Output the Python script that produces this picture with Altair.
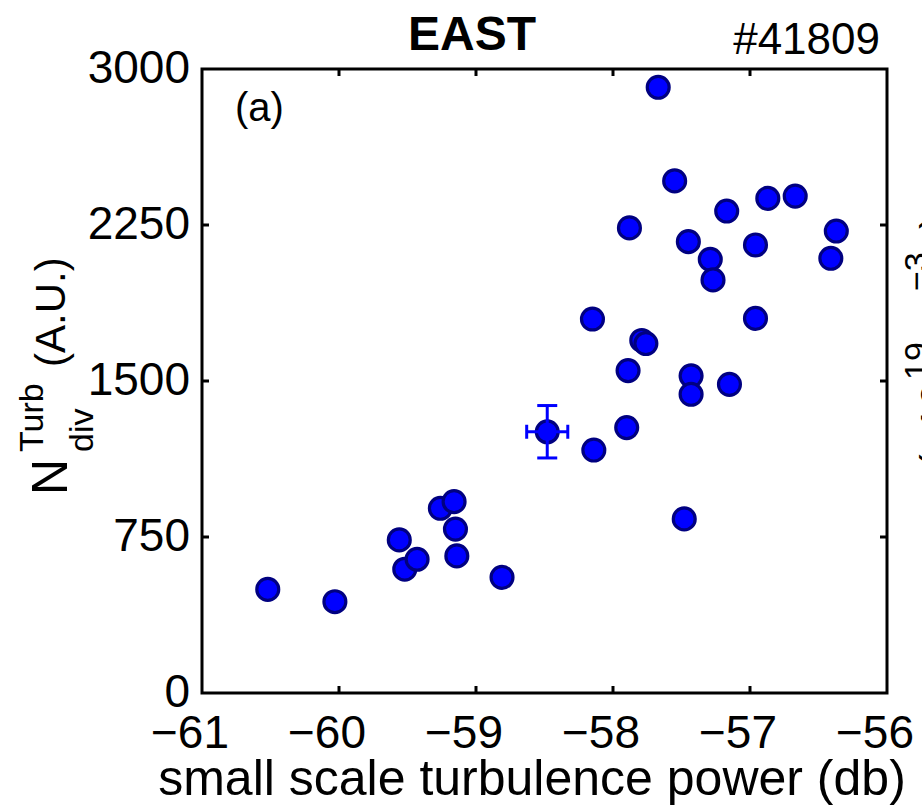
import altair as alt
import pandas as pd

# ---- data ----
x_power = [-60.52, -60.03, -59.56, -59.52, -59.43, -59.26, -59.16, -59.15, -59.14, -58.81,
           -58.48, -58.15, -58.14, -57.67, -57.88, -57.89, -57.90, -57.79, -57.76, -57.55,
           -57.45, -57.43, -57.43, -57.48, -57.15, -57.29, -57.27, -57.17, -56.96, -56.96,
           -56.87, -56.67, -56.37, -56.41]
n_div = [498, 439, 736, 595, 643, 888, 920, 788, 659, 556,
         1256, 1798, 1168, 2912, 2236, 1550, 1276, 1695, 1680, 2462,
         2170, 1525, 1436, 837, 1484, 2085, 1986, 2317, 2154, 1801,
         2378, 2389, 2221, 2090]

err_x = [-58.48]
err_y = [1256]
err_x_lo = [-58.63]
err_x_hi = [-58.33]
err_y_lo = [1130]
err_y_hi = [1382]

x_ticks = [-61, -60, -59, -58, -57, -56]
x_tick_labels = ["−61", "−60", "−59", "−58", "−57", "−56"]
y_ticks = [0, 750, 1500, 2250, 3000]
y_tick_labels = ["0", "750", "1500", "2250", "3000"]
x_inner_ticks = [-60, -59, -58, -57]
y_inner_ticks = [750, 1500, 2250]

FONT = "Liberation Sans"
W, H = 685, 624

df = pd.DataFrame({"x": x_power, "y": n_div})
df_err = pd.DataFrame({"x": err_x, "y": err_y, "xlo": err_x_lo, "xhi": err_x_hi,
                       "ylo": err_y_lo, "yhi": err_y_hi})
df_xt = pd.DataFrame({"x": x_inner_ticks})
df_yt = pd.DataFrame({"y": y_inner_ticks})
df_xl = pd.DataFrame({"x": x_ticks, "lab": x_tick_labels})
df_yl = pd.DataFrame({"y": y_ticks, "lab": y_tick_labels})

xs = alt.Scale(domain=[-61, -56], nice=False, zero=False)
ys = alt.Scale(domain=[0, 3000], nice=False, zero=False)


def X(f):
    return alt.X(f, type="quantitative", scale=xs, axis=None)


def Y(f):
    return alt.Y(f, type="quantitative", scale=ys, axis=None)


points = alt.Chart(df).mark_point(
    shape="circle", filled=True, fill="#0000ff", stroke="#000080",
    strokeWidth=3.2, size=480, opacity=1, fillOpacity=1, strokeOpacity=1
).encode(x=X("x"), y=Y("y"))

BLUE = "#0000ff"
eb_v = alt.Chart(df_err).mark_rule(color=BLUE, strokeWidth=3, opacity=1).encode(x=X("x"), y=Y("ylo"), y2="yhi:Q")
eb_h = alt.Chart(df_err).mark_rule(color=BLUE, strokeWidth=3, opacity=1).encode(x=X("xlo"), x2="xhi:Q", y=Y("y"))
cap_top = alt.Chart(df_err).mark_tick(color=BLUE, orient="horizontal", size=20, thickness=3, opacity=1).encode(x=X("x"), y=Y("yhi"))
cap_bot = alt.Chart(df_err).mark_tick(color=BLUE, orient="horizontal", size=20, thickness=3, opacity=1).encode(x=X("x"), y=Y("ylo"))
cap_l = alt.Chart(df_err).mark_tick(color=BLUE, orient="vertical", size=14, thickness=3, opacity=1).encode(x=X("xlo"), y=Y("y"))
cap_r = alt.Chart(df_err).mark_tick(color=BLUE, orient="vertical", size=14, thickness=3, opacity=1).encode(x=X("xhi"), y=Y("y"))

tick_b = alt.Chart(df_xt).mark_rule(color="black", strokeWidth=3).encode(x=X("x"), y=alt.value(H), y2=alt.value(H - 7))
tick_t = alt.Chart(df_xt).mark_rule(color="black", strokeWidth=3).encode(x=X("x"), y=alt.value(0), y2=alt.value(7))
tick_l = alt.Chart(df_yt).mark_rule(color="black", strokeWidth=3).encode(y=Y("y"), x=alt.value(0), x2=alt.value(7))
tick_r = alt.Chart(df_yt).mark_rule(color="black", strokeWidth=3).encode(y=Y("y"), x=alt.value(W), x2=alt.value(W - 7))

x_labels = alt.Chart(df_xl).mark_text(
    font=FONT, fontSize=46, align="center", baseline="alphabetic", color="black", dx=-12
).encode(x=X("x"), y=alt.value(H + 55), text="lab:N")
y_labels = alt.Chart(df_yl).mark_text(
    font=FONT, fontSize=46, align="right", baseline="middle", color="black"
).encode(y=Y("y"), x=alt.value(-12), text="lab:N")

one = pd.DataFrame({"k": [0]})


def txt(s, x, y, size, align="left", angle=0, bold=False, baseline="alphabetic"):
    kw = dict(text=s, font=FONT, fontSize=size, align=align, baseline=baseline,
              color="black", fontWeight="bold" if bold else "normal")
    if angle:
        kw["angle"] = angle
    return alt.Chart(one).mark_text(**kw).encode(x=alt.value(x), y=alt.value(y))


texts = [
    txt("EAST", 270, -19, 48, align="center", bold=True),
    txt("#41809", 678, -15, 44, align="right"),
    txt("(a)", 33, 52, 40),
    txt("small scale turbulence power (db)", 330, 726, 50, align="center"),
    # rotated y title: N^Turb_div (A.U.)
    txt("N", -135, 426, 50, angle=270),
    txt("Turb", -159, 383, 34, angle=270),
    txt("div", -109, 383, 34, angle=270),
    txt("(A.U.)", -137, 298, 42, angle=270),
    # partially visible right-hand label (x10^19 m^-3)
    txt("(×10", 748, 314, 42, align="right", angle=270),
    txt("19", 726, 311, 34, angle=270),
    txt("m", 748, 264, 42, angle=270),
    txt("−3", 726, 222, 34, angle=270),
    txt(")", 748, 160, 42, angle=270),
]

chart = alt.layer(
    points, eb_v, eb_h, cap_top, cap_bot, cap_l, cap_r,
    tick_b, tick_t, tick_l, tick_r, x_labels, y_labels, *texts
).properties(
    width=W, height=H,
    padding={"left": 202, "top": 69, "right": 35, "bottom": 113},
    autosize=alt.AutoSizeParams(type="none"),
    background="white",
).configure_view(
    stroke="black", strokeWidth=3
)

chart.save("out.html", embed_options={"renderer": "svg", "actions": False})
